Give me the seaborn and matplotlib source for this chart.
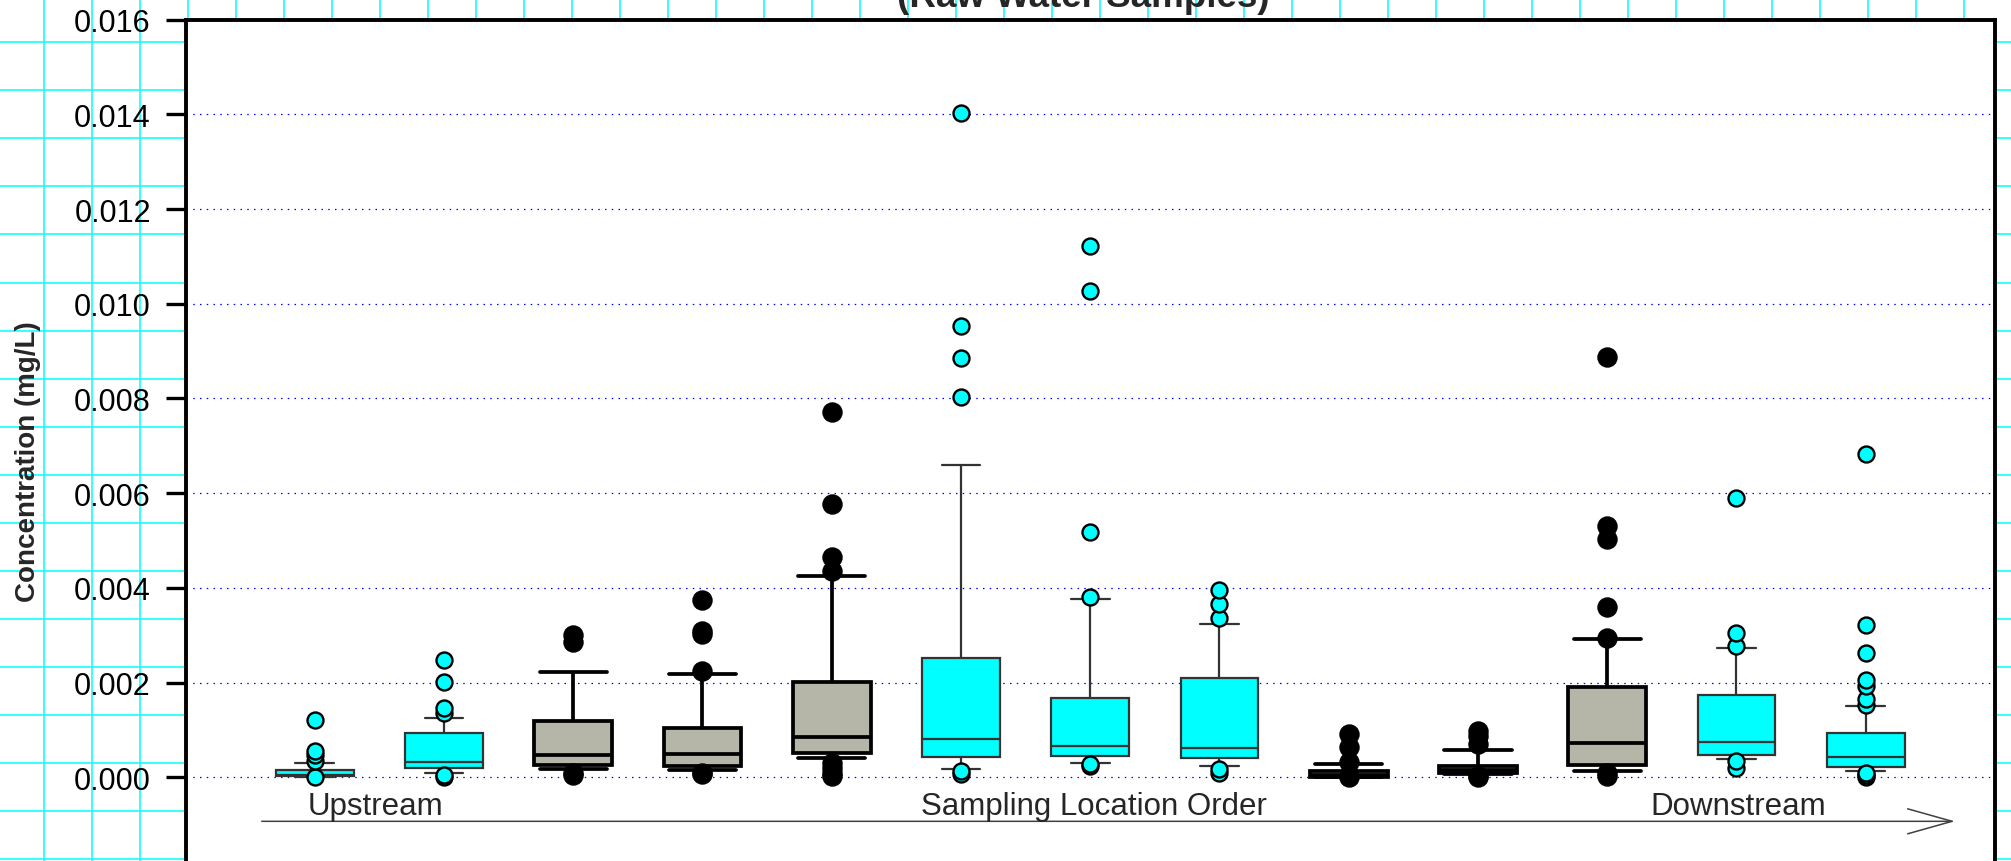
import numpy as np
import pandas as pd
import matplotlib
matplotlib.use("Agg")
import matplotlib.pyplot as plt
from matplotlib.ticker import FormatStrFormatter
import seaborn as sns

# Sampling sites, upstream -> downstream
sites = [f"Site {i}" for i in range(1, 14)]
site_group = ["A", "A", "B", "B", "B", "A", "A", "A", "B", "B", "B", "A", "A"]

# Concentrations (mg/L), sorted
s01 = [0.0, 0.00001, 0.00002, 0.00002, 0.00003, 0.00003, 0.00004, 0.00004, 0.00005, 0.00005,
       0.00005, 0.00007, 0.00009, 0.00011, 0.00013, 0.000155, 0.0003,
       0.00035, 0.00046, 0.00056, 0.0012]
s02 = [0.0, 0.00005, 0.00009, 0.00012, 0.00016, 0.00019, 0.00022, 0.00025, 0.00028, 0.00031,
       0.00033, 0.00042, 0.00055, 0.00068, 0.0008, 0.00093, 0.00125,
       0.00136, 0.00146, 0.00201, 0.00248]
s03 = [0.00004, 0.0001, 0.00018, 0.0002, 0.00023, 0.00025, 0.0003, 0.00035, 0.0004, 0.00044,
       0.00048, 0.0006, 0.00072, 0.00086, 0.001, 0.00118, 0.0014, 0.0018, 0.00223,
       0.00285, 0.00301]
s04 = [0.00006, 0.0001, 0.00015, 0.00018, 0.00021, 0.00024, 0.00029, 0.00034, 0.00039, 0.00045,
       0.0005, 0.0006, 0.0007, 0.0008, 0.00092, 0.00104, 0.00218,
       0.00225, 0.00303, 0.00309, 0.00375]
s05 = [0.00003, 0.0001, 0.0002, 0.00031, 0.000415, 0.00052, 0.0006, 0.00068, 0.00074, 0.0008,
       0.00085, 0.001, 0.0012, 0.0014, 0.0017, 0.00201, 0.00425,
       0.00436, 0.00466, 0.00577, 0.00772]
s06 = [0.00006, 0.00013, 0.00018, 0.00026, 0.00035, 0.00043, 0.0005, 0.00058, 0.00065, 0.00072,
       0.0008, 0.0011, 0.0014, 0.0018, 0.0021, 0.00251, 0.00659,
       0.00803, 0.00886, 0.00954, 0.01404]
s07 = [0.00024, 0.000275, 0.0003, 0.00035, 0.0004, 0.00045, 0.0005, 0.00055, 0.0006, 0.00064,
       0.00067, 0.0008, 0.001, 0.0012, 0.0014, 0.00167, 0.00376,
       0.00381, 0.00519, 0.01027, 0.01122]
s08 = [0.00008, 0.00017, 0.00024, 0.0003, 0.00035, 0.0004, 0.00045, 0.0005, 0.00054, 0.00058,
       0.00062, 0.0009, 0.0012, 0.0015, 0.0018, 0.00209, 0.0026, 0.00324,
       0.00337, 0.00366, 0.00396]
s09 = [0.0, 0.000004, 0.000005, 0.000006, 0.000007, 0.000008, 0.00001, 0.00002, 0.00003, 0.00003,
       0.00004, 0.00005, 0.00006, 0.00008, 0.0001, 0.00013, 0.0002, 0.00029,
       0.00033, 0.00063, 0.00091]
s10 = [0.0, 0.00003, 0.00006, 0.00007, 0.00008, 0.000085, 0.0001, 0.00011, 0.00012, 0.00014,
       0.000155, 0.00017, 0.00019, 0.0002, 0.00022, 0.00024, 0.00035, 0.00058,
       0.0007, 0.00087, 0.00098]
s11 = [0.00003, 0.0001, 0.000134, 0.00016, 0.0002, 0.00023, 0.000254, 0.0003, 0.00038, 0.00045,
       0.00053, 0.00062, 0.00072, 0.0009, 0.0011, 0.0013, 0.0015, 0.0017, 0.00191, 0.00293,
       0.00295, 0.0036, 0.00503, 0.00531, 0.00888]
s12 = [0.0002, 0.00035, 0.00038, 0.00042, 0.00045, 0.00048, 0.00054, 0.0006, 0.00066, 0.0007,
       0.00075, 0.0009, 0.0011, 0.0013, 0.0015, 0.00173, 0.0022, 0.00273,
       0.00278, 0.00304, 0.00589]
s13 = [0.0, 0.00004, 0.0001, 0.000127, 0.00014, 0.00016, 0.00018, 0.0002, 0.00021,
       0.00024, 0.00027, 0.0003, 0.00033, 0.00036, 0.00039, 0.00041, 0.00043,
       0.00048, 0.00054, 0.0006, 0.00066, 0.00072, 0.0008, 0.00087, 0.00094, 0.00151,
       0.00153, 0.00165, 0.00193, 0.00206, 0.00262, 0.00321, 0.00682]
site_values = [s01, s02, s03, s04, s05, s06, s07, s08, s09, s10, s11, s12, s13]

# number of points drawn as outliers below / above the whiskers
n_low = [1, 2, 2, 2, 4, 2, 2, 2, 1, 2, 2, 2, 3]
n_high = [4, 4, 2, 4, 4, 4, 4, 3, 3, 3, 5, 3, 7]

df = pd.DataFrame({
    "site": np.repeat(sites, [len(v) for v in site_values]),
    "conc": np.concatenate(site_values),
})

sns.set_style("white")
plt.rcParams["font.family"] = ["Liberation Sans", "DejaVu Sans"]

fig = plt.figure(figsize=(20.11, 8.62), dpi=100)
fig.patch.set_facecolor("white")

# graph paper behind the plot
bg = fig.add_axes([0, 0, 1, 1])
bg.set_xlim(0, 2011)
bg.set_ylim(862, 0)
bg.set_xticks(np.arange(44, 2011, 48))
bg.set_yticks(np.arange(43.3, 862, 48.04))
bg.grid(True, color="#00ffff", lw=1.1)
bg.tick_params(length=0, labelbottom=False, labelleft=False)
for s in bg.spines.values():
    s.set_visible(False)

ax = fig.add_axes([185.5 / 2011, -0.0347, 1809.5 / 2011, 871.2 / 862])
ax.set_facecolor("white")

colors = {"A": "#00ffff", "B": "#b5b5a8"}

for i, site in enumerate(sites):
    n = len(site_values[i])
    lo = 100 * (n_low[i] - 0.5) / (n - 1)
    hi = 100 * (n - 1 - n_high[i] + 0.5) / (n - 1)
    gray = site_group[i] == "B"
    edge = "black" if gray else "#333333"
    sns.boxplot(
        data=df[df["site"] == site], x="site", y="conc", order=sites,
        whis=(lo, hi), width=0.6, color=colors[site_group[i]], saturation=1,
        linecolor=edge, linewidth=2.7 if gray else 1.6,
        capwidths=0.52 if gray else 0.3,
        flierprops=dict(marker="o", markersize=13 if gray else 11.5,
                        markerfacecolor="black" if gray else "#00ffff",
                        markeredgecolor="black", markeredgewidth=1.7, zorder=5),
        ax=ax,
    )

ax.set_xlim(-1, 13)
ax.set_ylim(-0.0024, 0.016)
ax.set_yticks(np.arange(0, 0.0161, 0.002))
ax.yaxis.set_major_formatter(FormatStrFormatter("%.3f"))
ax.set_xticks([])
ax.set_xlabel("")
ax.set_ylabel("")
ax.tick_params(axis="y", direction="out", length=14.5, width=2.4, pad=10.5,
               labelsize=22, colors="black", left=True)
ax.yaxis.grid(True, color="#0000ff", linestyle=(0, (1.2, 4.2)), lw=0.9)
ax.xaxis.grid(False)
ax.set_axisbelow(True)
for side in ["left", "top", "right"]:
    ax.spines[side].set_color("black")
    ax.spines[side].set_linewidth(2.8)
ax.spines["bottom"].set_visible(False)

# direction arrow and labels under the boxes
ax.annotate("", xy=(12.69, -0.00093), xytext=(-0.41, -0.00093),
            arrowprops=dict(arrowstyle="->,head_length=1.6,head_width=0.45",
                            color="#404040", lw=1.1, mutation_scale=20,
                            shrinkA=0, shrinkB=0))
ax.text(0.47, -0.00078, "Upstream", ha="center", va="baseline", fontsize=22.5)
ax.text(6.03, -0.00078, "Sampling Location Order", ha="center", va="baseline", fontsize=22.5)
ax.text(11.01, -0.00078, "Downstream", ha="center", va="baseline", fontsize=22.5)

fig.text(28 / 2011, 1 - 462 / 862, "Concentration (mg/L)", rotation=90,
         ha="center", va="center", fontsize=20, fontweight="bold")
# second title line; the chart is cropped just below the first line
fig.text(1083 / 2011, 1 - 7 / 862, "(Raw Water Samples)", ha="center",
         va="baseline", fontsize=26.5, fontweight="bold")

fig.savefig("out.png", dpi=100)
